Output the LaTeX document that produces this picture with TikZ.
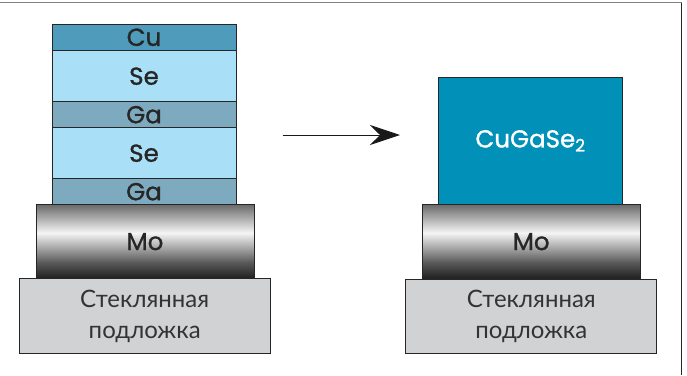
\documentclass[tikz,border=0pt]{standalone}
\usepackage{fontspec}
\setmainfont[FakeBold=1.2]{Poppins}
\newfontfamily\cyrfont{Lato}
\usetikzlibrary{arrows.meta}

\definecolor{cucol}{HTML}{4F9BBB}
\definecolor{secol}{HTML}{A9DFF7}
\definecolor{gacol}{HTML}{7EAABF}
\definecolor{cgscol}{HTML}{0090B8}
\definecolor{glasscol}{HTML}{D1D2D4}

\pgfdeclareverticalshading{moshade}{100bp}{color(0bp)=(black!90); color(25bp)=(black!88);
    color(36bp)=(black!65); color(56bp)=(black!4); color(75bp)=(black!58); color(100bp)=(black!58)}

\tikzstyle{layer} = [draw=black!85, line width=0.8pt, rectangle, inner sep=0pt,
    minimum width=184pt, text=black!85, font=\fontsize{24.5}{24.5}\selectfont]
\tikzstyle{thin} = [layer, minimum height=26pt, fill=gacol]
\tikzstyle{thick} = [layer, minimum height=51pt, fill=secol]
\tikzstyle{mo} = [layer, minimum width=218pt, minimum height=74pt, shading=moshade]
\tikzstyle{glass} = [layer, minimum width=251pt, minimum height=74.5pt, fill=glasscol,
    align=center, text=black!80, font=\cyrfont\fontsize{24}{31}\selectfont]

\begin{document}
\begin{tikzpicture}[x=1pt, y=-1pt]
    \useasboundingbox (0,0) rectangle (687,375);
    % frame
    \draw [black!50, line width=1.4pt] (0,2.7) -- (681.7,2.7);
    \draw [black!85, line width=1pt] (681.7,2.7) -- (681.7,375);
    % before
    \node [thin, fill=cucol, minimum height=26.7pt] (cu) at (144,37.3) {Cu};
    \node [thick] (se1) at (144,76.2) {Se};
    \node [thin] (ga1) at (144,114.7) {Ga};
    \node [thick] (se2) at (144,153.2) {Se};
    \node [thin] (ga2) at (144,191.7) {Ga};
    \node [mo] (mo1) at (145,241.7) {Mo};
    \node [glass] (glass1) at (144.7,316) {Стеклянная\\подложка};
    % after
    \node [layer, fill=cgscol, minimum height=127pt, text=white] (cgs) at (530.5,140.8) {CuGaSe\textsubscript{2}};
    \node [mo] (mo2) at (531.2,241.7) {Mo};
    \node [glass] (glass2) at (531.3,316.2) {Стеклянная\\подложка};
    % arrow
    \coordinate (from) at (282.7,135);
    \coordinate (to) at (400,135);
    \draw [-{Stealth[length=30pt, width=20pt, inset=10pt]}, line width=0.9pt, black!90] (from) -- (to);
\end{tikzpicture}
\end{document}
